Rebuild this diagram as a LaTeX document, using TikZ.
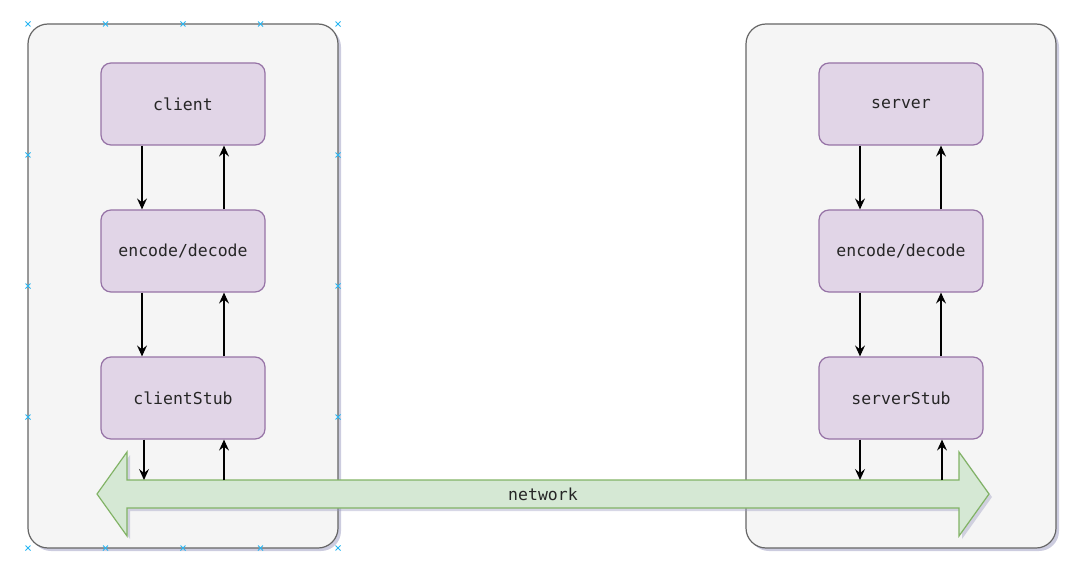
\documentclass[tikz,border=0pt]{standalone}
\usepackage{fontspec}
\setmonofont{DejaVu Sans Mono}
\usetikzlibrary{arrows.meta}
\definecolor{contfill}{HTML}{F5F5F5}
\definecolor{contline}{HTML}{666666}
\definecolor{boxfill}{HTML}{E1D5E7}
\definecolor{boxline}{HTML}{9673A6}
\definecolor{netfill}{HTML}{D5E8D4}
\definecolor{netline}{HTML}{82B366}
\definecolor{shadowc}{HTML}{9A9AC0}
\definecolor{handle}{HTML}{29B6F2}
\tikzset{
  container/.style={draw=contline, fill=contfill, line width=1.2pt, rounded corners=20pt},
  shade/.style={fill=shadowc, opacity=0.5, rounded corners=20pt},
  labelfont/.style={font=\ttfamily\fontsize{16.5}{20}\selectfont, text=black!85},
  stepbox/.style={draw=boxline, fill=boxfill, line width=1.2pt, rounded corners=10pt,
    minimum width=164pt, minimum height=82pt, inner sep=0pt, labelfont},
  conn/.style={draw=black, line width=1.2pt, -{Stealth[length=11pt,width=10pt,inset=4pt]}},
  netarrow/.style={draw=netline, fill=netfill, line width=1.2pt},
  handlemark/.style={draw=handle, line width=1pt},
}
\newcommand{\hmark}[2]{\draw[handlemark] (#1-2.5,#2-2.5) -- (#1+2.5,#2+2.5) (#1-2.5,#2+2.5) -- (#1+2.5,#2-2.5);}
\begin{document}
\begin{tikzpicture}[x=1pt,y=-1pt]
\useasboundingbox (0,0) rectangle (1092,580);
% container shadows
\fill[shade] (31,27) rectangle (341,551);
\fill[shade] (749,27) rectangle (1059,551);
% containers
\draw[container] (28,24) rectangle (338,548);
\draw[container] (746,24) rectangle (1056,548);
% network arrow shadow
\fill[shadowc, opacity=0.4] (100,497) -- (130,455) -- (130,483) -- (962,483) -- (962,455) -- (992,497) -- (962,539) -- (962,511) -- (130,511) -- (130,539) -- cycle;
% network arrow
\draw[netarrow] (97,494) -- (127,452) -- (127,480) -- (959,480) -- (959,452) -- (989,494) -- (959,536) -- (959,508) -- (127,508) -- (127,536) -- cycle;
\node[labelfont] (net) at (543,494) {network};
% left stack
\node[stepbox] (client) at (183,104) {client};
\node[stepbox] (encL) at (183,251) {encode/decode};
\node[stepbox] (stubL) at (183,398) {clientStub};
% right stack
\node[stepbox] (server) at (901,104) {server};
\node[stepbox] (encR) at (901,251) {encode/decode};
\node[stepbox] (stubR) at (901,398) {serverStub};
% network touch points
\coordinate (nL1) at (144,480);
\coordinate (nL2) at (224,480);
\coordinate (nR1) at (860,480);
\coordinate (nR2) at (942,480);
% left connectors
\draw[conn] (client.south -| 142,0) -- (encL.north -| 142,0);
\draw[conn] (encL.north -| 224,0) -- (client.south -| 224,0);
\draw[conn] (encL.south -| 142,0) -- (stubL.north -| 142,0);
\draw[conn] (stubL.north -| 224,0) -- (encL.south -| 224,0);
\draw[conn] (stubL.south -| nL1) -- (nL1);
\draw[conn] (nL2) -- (stubL.south -| nL2);
% right connectors
\draw[conn] (server.south -| 860,0) -- (encR.north -| 860,0);
\draw[conn] (encR.north -| 941,0) -- (server.south -| 941,0);
\draw[conn] (encR.south -| 860,0) -- (stubR.north -| 860,0);
\draw[conn] (stubR.north -| 941,0) -- (encR.south -| 941,0);
\draw[conn] (stubR.south -| nR1) -- (nR1);
\draw[conn] (nR2) -- (stubR.south -| nR2);
% selection handles
\foreach \hx in {28,105.5,183,260.5,338} {\hmark{\hx}{24}\hmark{\hx}{548}}
\foreach \hy in {155,286,417} {\hmark{28}{\hy}\hmark{338}{\hy}}
\end{tikzpicture}
\end{document}
